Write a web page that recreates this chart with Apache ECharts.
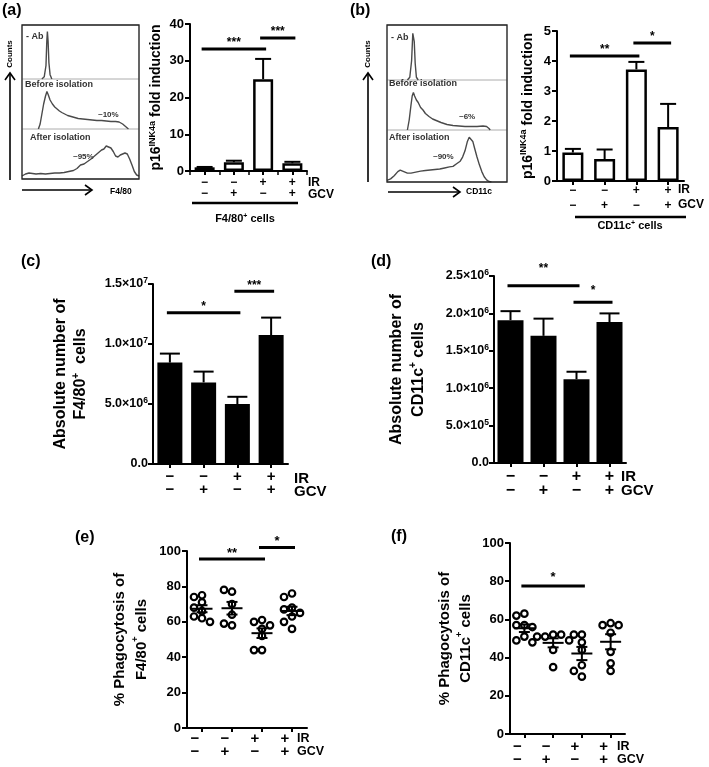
<!DOCTYPE html>
<html><head><meta charset="utf-8">
<script src="https://cdn.jsdelivr.net/npm/echarts@6/dist/echarts.min.js"></script>
<style>html,body{margin:0;padding:0;background:#fff}#c{width:709px;height:767px}</style>
</head><body><div id="c"></div><script>
// ---------------- data ----------------
const irRow  = ['−','−','+','+'];
const gcvRow = ['−','+','−','+'];

// (a) p16INK4a fold induction, F4/80+ cells
const aFold    = [1.0, 2.4, 25.0, 2.1];
const aFoldErr = [1.1, 2.8, 30.5, 2.5];
const aSigPairs = [[0, 2, 33.2], [2, 3, 36.2]];
const aSigText  = ['***', '***'];

// (b) p16INK4a fold induction, CD11c+ cells
const bFold    = [0.95, 0.73, 3.72, 1.8];
const bFoldErr = [1.07, 1.05, 3.97, 2.57];
const bSigPairs = [[0, 2, 4.17], [2, 3, 4.6]];
const bSigText  = ['**', '*'];

// (c) absolute number of F4/80+ cells
const cCount    = [8.45e6, 6.8e6, 5.0e6, 10.75e6];
const cCountErr = [9.2e6, 7.7e6, 5.6e6, 12.2e6];
const cSigPairs = [[0, 2, 12.6e6], [2, 3, 14.4e6]];
const cSigText  = ['*', '***'];
const cTicks      = [0, 5e6, 1e7, 1.5e7];
const cTickLabels = ['0.0', '5.0×10^6', '1.0×10^7', '1.5×10^7'];

// (d) absolute number of CD11c+ cells
const dCount    = [1.91e6, 1.70e6, 1.12e6, 1.885e6];
const dCountErr = [2.03e6, 1.93e6, 1.22e6, 2.0e6];
const dSigPairs = [[0, 2, 2.37e6], [2, 3, 2.15e6]];
const dSigText  = ['**', '*'];
const dTicks      = [0, 5e5, 1e6, 1.5e6, 2e6, 2.5e6];
const dTickLabels = ['0.0', '5.0×10^5', '1.0×10^6', '1.5×10^6', '2.0×10^6', '2.5×10^6'];

// (e) % phagocytosis of F4/80+ cells (individual mice)
const ePhago = [
  [75, 74, 71, 68, 66, 63, 62, 60],
  [77, 78, 70, 64, 58, 59],
  [61, 60, 58, 56, 52, 44, 44],
  [76, 74, 68, 67, 65, 63, 60, 56]
];
const eSigPairs = [[0, 2, 95.5], [2, 3, 102]];
const eSigText  = ['**', '*'];

// (f) % phagocytosis of CD11c+ cells
const fPhago = [
  [63, 62, 57, 57, 56, 51, 49, 48],
  [52, 51, 52, 51, 49, 44, 35],
  [52, 52, 48, 44, 36, 33, 30],
  [58, 57, 57, 53, 43, 37, 33]
];
const fSigPairs = [[0, 2, 77.5]];
const fSigText  = ['*'];

// flow cytometry histograms [intensity %, count %]
const aHistNeg = [[17,0],[19,4],[20.5,25],[21.2,70],[21.7,88],[22.3,70],[23,30],[24,8],[25.5,0]];
const aHistBefore = [[14,0],[15.5,10],[17,30],[18.5,50],[20,65],[21.3,75],[22.5,68],[24,58],[26,50],[28,44],[30,40],[32,36],[34,33],[36.5,30],[39,27],[42,25],[45,23],[48,21],[52,20],[56,19],[60,18],[64,17],[68,17],[72,16],[76,15],[80,15],[83,14],[86,10],[88,6],[90,2],[91,0]];
const aHistAfter = [[0,6],[3,10],[6,12],[9,11],[12,10],[16,11],[20,10],[24,11],[28,12],[32,12],[36,13],[40,15],[44,17],[47,21],[50,28],[53,30],[56,35],[59,40],[62,46],[65,52],[68,58],[70,60],[72,66],[74,64],[76,62],[78,55],[80,46],[82,44],[84,48],[86,50],[88,52],[90,50],[92,40],[94,28],[96,15],[98,8],[100,6]];
const bHistNeg = [[17,0],[19,5],[20.5,35],[21.5,85],[22,88],[22.7,70],[23.5,30],[24.5,5],[26,0]];
const bHistBefore = [[17,0],[18.5,20],[20,50],[21,68],[22,75],[23,68],[24.5,60],[26,55],[28,45],[30,40],[32,33],[35,27],[38,22],[41,19],[45,15],[50,11],[55,9],[60,8],[65,7],[70,7],[75,7],[80,8],[83,7],[85,3],[86,0]];
const bHistAfter = [[0,3],[3,6],[6,12],[9,20],[11,23],[14,20],[17,17],[20,17],[24,19],[28,21],[32,22],[36,23],[40,24],[44,25],[48,27],[52,29],[55,30],[58,35],[61,40],[63,48],[65,60],[67,78],[68.5,86],[70,85],[71.5,78],[73,65],[75,48],[77,33],[79,20],[81,10],[83,4],[85,1],[87,0]];

// ---------------- chart ----------------
const FONT = '"Liberation Sans", Arial, Helvetica, sans-serif';
const cats = irRow.map((r, i) => r + '\n' + gcvRow[i]);

const grids = [
  {left:22,  top:25,  width:117, height:54},   //0 a hist
  {left:22,  top:79,  width:117, height:50},   //1
  {left:22,  top:129, width:117, height:50},   //2
  {left:190, top:24,  width:117, height:147},  //3 a bar
  {left:387, top:25,  width:120, height:55},   //4 b hist
  {left:387, top:80,  width:120, height:50},   //5
  {left:387, top:130, width:120, height:52},   //6
  {left:557, top:31,  width:127, height:150},  //7 b bar
  {left:153, top:284, width:135, height:180},  //8 c
  {left:494, top:276, width:132, height:187},  //9 d
  {left:187, top:551, width:120, height:177},  //10 e
  {left:510, top:543, width:115, height:191}   //11 f
];
[0,1,2,4,5,6].forEach(i => Object.assign(grids[i], {show:true, borderColor:'#c8c8c8', borderWidth:1}));

const histX = gi => ({type:'value', gridIndex:gi, min:0, max:100, show:false});
const histY = gi => ({type:'value', gridIndex:gi, min:0, max:100, show:false});

function catAxis(gi, o) {
  return {type:'category', gridIndex:gi, data:cats, position:'bottom',
    axisLine:{lineStyle:{color:'#000', width:2}},
    axisTick:{show:true, alignWithLabel:true, length:o.tl || 4, lineStyle:{color:'#000', width:2}},
    axisLabel:{interval:0, color:'#000', fontWeight:'bold', fontFamily:FONT, fontSize:o.fs, lineHeight:o.lh, margin:o.margin,
      padding:o.pad || 0},
    splitLine:{show:false}};
}
const richSup = (fs, sfs) => ({
  n:{fontWeight:'bold', fontSize:fs, fontFamily:FONT, color:'#000'},
  s:{fontWeight:'bold', fontSize:sfs, fontFamily:FONT, color:'#000', verticalAlign:'top', padding:[0,0,Math.round(fs*0.45),0]}
});
function valAxis(gi, o) {
  return {type:'value', gridIndex:gi, min:o.min, max:o.max, interval:o.interval,
    axisLine:{show:true, lineStyle:{color:'#000', width:2}},
    axisTick:{show:true, length:5, lineStyle:{color:'#000', width:2}},
    splitLine:{show:false},
    axisLabel:{color:'#000', fontWeight:'bold', fontFamily:FONT, fontSize:o.fs, margin:o.margin || 6,
      formatter:o.formatter, rich:o.rich},
    name:o.name, nameLocation:'middle', nameRotate:90, nameGap:o.nameGap,
    nameTextStyle:{rich:richSup(o.nfs, o.nsfs), lineHeight:o.nlh || o.nfs+4, align:'center'}};
}
function sciFormatter(ticks, labels) {
  return v => {
    const i = ticks.findIndex(t => Math.abs(t - v) <= 1e-6 * Math.max(1, Math.abs(t)));
    if (i < 0) return '';
    const [m, e] = labels[i].split('^');
    return e ? `{m|${m}}{e|${e}}` : `{m|${m}}`;
  };
}
const sciRich = {
  m:{fontWeight:'bold', fontSize:12.5, fontFamily:FONT, color:'#000'},
  e:{fontWeight:'bold', fontSize:8.5, fontFamily:FONT, color:'#000', verticalAlign:'top', padding:[0,0,6,0]}
};

const xAxes = [
  histX(0), histX(1), histX(2),
  catAxis(3, {fs:12, lh:11, margin:6}),
  histX(4), histX(5), histX(6),
  catAxis(7, {fs:12, lh:15, margin:2}),
  catAxis(8, {fs:15, lh:13, margin:6}),
  catAxis(9, {fs:16, lh:14, margin:7}),
  catAxis(10, {fs:15, lh:13, margin:4, pad:[0,14,0,0]}),
  catAxis(11, {fs:15, lh:13, margin:6, pad:[0,14,0,0]}),
  // extra boundary ticks for (a): a top axis shifted down onto the bottom line, ticks pointing down
  {type:'category', gridIndex:3, data:cats, position:'top', offset:-147, axisLine:{show:false},
   axisTick:{show:true, inside:true, alignWithLabel:false, length:4, lineStyle:{color:'#000', width:1.5}},
   axisLabel:{show:false}}
];
const yAxes = [
  histY(0), histY(1), histY(2),
  valAxis(3, {min:0, max:40, interval:10, fs:13, name:'{n|p16}{s|INK4a}{n| fold induction}', nameGap:22, nfs:14, nsfs:9}),
  histY(4), histY(5), histY(6),
  valAxis(7, {min:0, max:5, interval:1, fs:13, name:'{n|p16}{s|INK4a}{n| fold induction}', nameGap:20, nfs:14, nsfs:9}),
  valAxis(8, {min:0, max:1.5e7, interval:5e6, margin:5, formatter:sciFormatter(cTicks, cTickLabels), rich:sciRich,
    name:'{n|Absolute number of}\n{n|F4/80}{s|+}{n|  cells}', nameGap:62, nfs:16, nsfs:10, nlh:20}),
  valAxis(9, {min:0, max:2.5e6, interval:5e5, margin:5, formatter:sciFormatter(dTicks, dTickLabels), rich:sciRich,
    name:'{n|Absolute number of}\n{n|CD11c}{s|+}{n| cells}', nameGap:64, nfs:16, nsfs:10, nlh:22}),
  valAxis(10, {min:0, max:100, interval:20, fs:13, name:'{n|% Phagocytosis of}\n{n|F4/80}{s|+}{n| cells}', nameGap:34, nfs:15, nsfs:9, nlh:22}),
  valAxis(11, {min:0, max:100, interval:20, fs:13, name:'{n|% Phagocytosis of}\n{n|CD11c}{s|+}{n| cells}', nameGap:34, nfs:15, nsfs:9, nlh:21})
];

const histLine = (gi, data) => ({type:'line', xAxisIndex:gi, yAxisIndex:gi, data, showSymbol:false, smooth:false,
  lineStyle:{color:'#4a4a4a', width:1.4}, silent:true, z:3});

function barSeries(gi, vals, width, hollow) {
  return {type:'bar', xAxisIndex:gi, yAxisIndex:gi, data:vals, barWidth:width, silent:true,
    itemStyle: hollow ? {color:'#fff', borderColor:'#000', borderWidth:2.5} : {color:'#000'}};
}
function errSeries(gi, vals, errs, capW) {
  return {type:'custom', xAxisIndex:gi, yAxisIndex:gi, clip:false, silent:true, z:4,
    data: vals.map((v, i) => [i, v, errs[i]]), encode:{x:0, y:1},
    renderItem:(params, api) => {
      const b = api.coord([api.value(0), api.value(1)]);
      const t = api.coord([api.value(0), api.value(2)]);
      return {type:'group', children:[
        {type:'line', shape:{x1:b[0], y1:b[1], x2:t[0], y2:t[1]}, style:{stroke:'#000', lineWidth:2}},
        {type:'line', shape:{x1:t[0]-capW/2, y1:t[1], x2:t[0]+capW/2, y2:t[1]}, style:{stroke:'#000', lineWidth:2}}
      ]};
    }};
}
function sigSeries(gi, pairs, texts, fs, gaps) {
  return {type:'custom', xAxisIndex:gi, yAxisIndex:gi, clip:false, silent:true, z:6,
    data: pairs, encode:{x:0, y:2},
    renderItem:(params, api) => {
      const p1 = api.coord([api.value(0), api.value(2)]);
      const p2 = api.coord([api.value(1), api.value(2)]);
      const gap = gaps ? gaps[params.dataIndex] : 6;
      return {type:'group', children:[
        {type:'line', shape:{x1:p1[0]-3, y1:p1[1], x2:p2[0]+3, y2:p2[1]}, style:{stroke:'#000', lineWidth:3}},
        {type:'text', style:{text:texts[params.dataIndex], x:(p1[0]+p2[0])/2, y:p1[1]-gap,
          align:'center', verticalAlign:'middle', font:`bold ${fs}px ${FONT}`, fill:'#000'}}
      ]};
    }};
}
function swarmOffsets(vals, pxPerUnit, diam, step) {
  const placed = [];
  return vals.map(v => {
    const y = v * pxPerUnit;
    let dx = 0;
    for (let k = 0; k < 14; k++) {
      const cand = k === 0 ? 0 : (k % 2 ? -1 : 1) * Math.ceil(k / 2) * step;
      if (placed.every(p => Math.hypot(p.x - cand, p.y - y) >= diam)) { dx = cand; break; }
    }
    placed.push({x:dx, y});
    return dx;
  });
}
function dotSeries(gi, groups, pxPerUnit) {
  const data = [];
  groups.forEach((vals, g) => {
    const offs = swarmOffsets(vals, pxPerUnit, 7, 4);
    vals.forEach((v, j) => data.push({value:[g, v], symbolOffset:[offs[j], 0]}));
  });
  return {type:'scatter', xAxisIndex:gi, yAxisIndex:gi, data, symbol:'circle', symbolSize:6.5, silent:true, z:3,
    itemStyle:{color:'#fff', borderColor:'#000', borderWidth:2.2, opacity:1}};
}
function meanSemSeries(gi, groups, meanW, capW) {
  const data = groups.map((vals, g) => {
    const n = vals.length, m = vals.reduce((a, b) => a + b, 0) / n;
    const sd = Math.sqrt(vals.reduce((a, b) => a + (b - m) * (b - m), 0) / (n - 1));
    return [g, m, sd / Math.sqrt(n)];
  });
  return {type:'custom', xAxisIndex:gi, yAxisIndex:gi, clip:false, silent:true, z:5,
    data, encode:{x:0, y:1},
    renderItem:(params, api) => {
      const g = api.value(0), m = api.value(1), s = api.value(2);
      const c = api.coord([g, m]), up = api.coord([g, m + s]), dn = api.coord([g, m - s]);
      const st = {stroke:'#000', lineWidth:2};
      return {type:'group', children:[
        {type:'line', shape:{x1:c[0]-meanW/2, y1:c[1], x2:c[0]+meanW/2, y2:c[1]}, style:st},
        {type:'line', shape:{x1:up[0], y1:up[1], x2:dn[0], y2:dn[1]}, style:st},
        {type:'line', shape:{x1:up[0]-capW/2, y1:up[1], x2:up[0]+capW/2, y2:up[1]}, style:st},
        {type:'line', shape:{x1:dn[0]-capW/2, y1:dn[1], x2:dn[0]+capW/2, y2:dn[1]}, style:st}
      ]};
    }};
}

const series = [
  histLine(0, aHistNeg), histLine(1, aHistBefore), histLine(2, aHistAfter),
  histLine(4, bHistNeg), histLine(5, bHistBefore), histLine(6, bHistAfter),
  barSeries(3, aFold, 20, true), errSeries(3, aFold, aFoldErr, 16), sigSeries(3, aSigPairs, aSigText, 12),
  barSeries(7, bFold, 21, true), errSeries(7, bFold, bFoldErr, 16), sigSeries(7, bSigPairs, bSigText, 12),
  barSeries(8, cCount, 25, false), errSeries(8, cCount, cCountErr, 20), sigSeries(8, cSigPairs, cSigText, 12),
  barSeries(9, dCount, 26, false), errSeries(9, dCount, dCountErr, 20), sigSeries(9, dSigPairs, dSigText, 12, [17, 11]),
  dotSeries(10, ePhago, 177/100), meanSemSeries(10, ePhago, 21, 11), sigSeries(10, eSigPairs, eSigText, 13),
  dotSeries(11, fPhago, 191/100), meanSemSeries(11, fPhago, 21, 11), sigSeries(11, fSigPairs, fSigText, 13, [9])
];

// ------------- decorations (text, arrows, frames) -------------
const T = (x, y, text, fs, opt) => Object.assign({type:'text', x, y, silent:true,
  style:Object.assign({text, font:`bold ${fs}px ${FONT}`, fill:'#000', align:'left', verticalAlign:'middle'}, opt && opt.style || {})},
  opt && opt.el || {});
const supRich = (fs, sfs) => ({n:{font:`bold ${fs}px ${FONT}`, fill:'#000'}, s:{font:`bold ${sfs}px ${FONT}`, fill:'#000', verticalAlign:'top', padding:[0,0,5,0]}});
const L = (x1, y1, x2, y2, w, c) => ({type:'line', silent:true, shape:{x1, y1, x2, y2}, style:{stroke:c || '#000', lineWidth:w}});
const P = (pts, w) => ({type:'polyline', silent:true, shape:{points:pts}, style:{stroke:'#000', lineWidth:w, fill:null}});

const graphic = [
  // panel letters
  T(2, 11, '(a)', 16), T(350, 11, '(b)', 16), T(21, 262, '(c)', 16), T(371, 262, '(d)', 16),
  T(75, 538, '(e)', 16), T(391, 537, '(f)', 16),
  // histogram frames
  {type:'rect', silent:true, shape:{x:22, y:25, width:117, height:154}, style:{stroke:'#222', lineWidth:1.3, fill:null}, z:10},
  {type:'rect', silent:true, shape:{x:387, y:25, width:120, height:157}, style:{stroke:'#222', lineWidth:1.3, fill:null}, z:10},
  // histogram (a) labels
  T(26, 37, '- Ab', 9, {style:{fill:'#333'}}), T(25, 85, 'Before isolation', 9, {style:{fill:'#333'}}),
  T(98, 115, '~10%', 8, {style:{fill:'#333'}}), T(30, 138, 'After isolation', 9, {style:{fill:'#333'}}),
  T(73, 157, '~95%', 8, {style:{fill:'#333'}}),
  // histogram (b) labels
  T(391, 38, '- Ab', 9, {style:{fill:'#333'}}), T(389, 84, 'Before isolation', 9, {style:{fill:'#333'}}),
  T(459, 117, '~6%', 8, {style:{fill:'#333'}}), T(389, 138, 'After isolation', 9, {style:{fill:'#333'}}),
  T(433, 157, '~90%', 8, {style:{fill:'#333'}}),
  // Counts axes (a)
  T(10, 54, 'Counts', 8, {style:{align:'center'}, el:{rotation:Math.PI/2}}),
  L(10, 180, 10, 73, 1.6), P([[5,80],[10,73],[15,80]], 1.6),
  L(22, 190, 92, 190, 1.6), P([[85,185],[92,190],[85,195]], 1.6),
  T(110, 192, 'F4/80', 8.5),
  // Counts axes (b)
  T(368, 54, 'Counts', 8, {style:{align:'center'}, el:{rotation:Math.PI/2}}),
  L(368, 182, 368, 73, 1.6), P([[363,80],[368,73],[373,80]], 1.6),
  L(388, 192, 460, 192, 1.6), P([[453,187],[460,192],[453,197]], 1.6),
  T(466, 192, 'CD11c', 8.5),
  // IR / GCV row labels
  T(308, 183, 'IR', 12), T(308, 195, 'GCV', 12),
  T(678, 190, 'IR', 12), T(678, 205, 'GCV', 12),
  T(294, 479, 'IR', 15), T(294, 492, 'GCV', 15),
  T(621, 477, 'IR', 15), T(621, 491, 'GCV', 15),
  T(297, 739, 'IR', 12.5), T(297, 752, 'GCV', 12.5),
  T(617, 747, 'IR', 12.5), T(617, 760, 'GCV', 12.5),
  // cell-type underlines
  L(192, 203, 298, 203, 2.5), L(575, 217, 686, 217, 2.5),
  {type:'text', x:245, y:219, silent:true, style:{text:'{n|F4/80}{s|+}{n| cells}', rich:supRich(11, 7), align:'center', verticalAlign:'middle'}},
  {type:'text', x:630, y:226, silent:true, style:{text:'{n|CD11c}{s|+}{n| cells}', rich:supRich(11, 7), align:'center', verticalAlign:'middle'}}
];

const chart = echarts.init(document.getElementById('c'), null, {renderer:'canvas'});
chart.setOption({
  animation:false,
  backgroundColor:'#fff',
  textStyle:{fontFamily:FONT},
  grid:grids, xAxis:xAxes, yAxis:yAxes, series, graphic
});
</script></body></html>
